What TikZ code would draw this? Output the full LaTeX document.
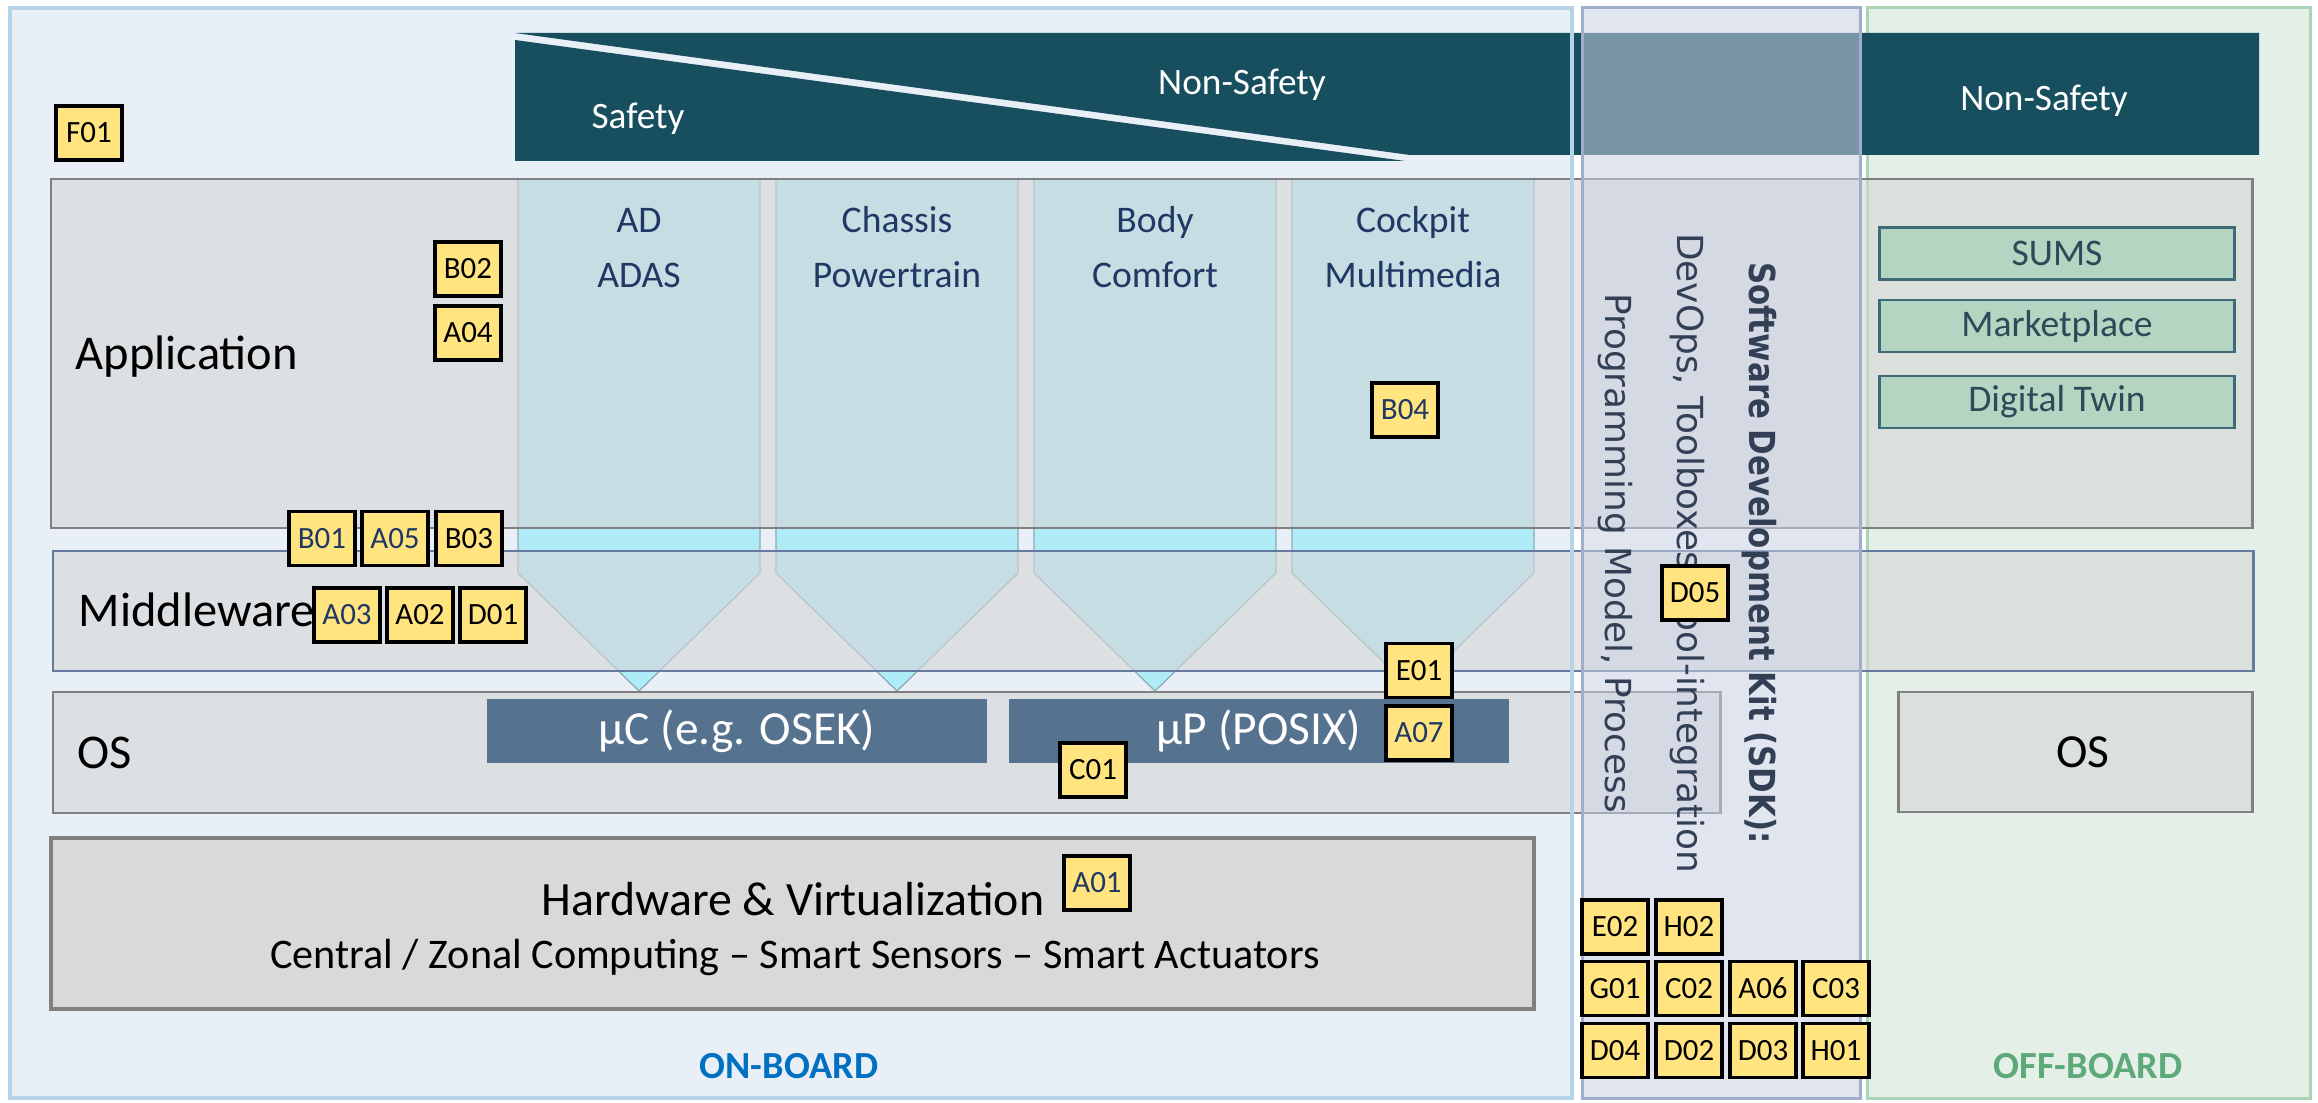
\documentclass[tikz,border=0pt]{standalone}
\usepackage{fontspec}
\setmainfont{Carlito}
\newfontfamily\sdkfont[BoldFeatures={FakeStretch=0.86}]{DejaVu Sans}
\definecolor{onBg}{HTML}{E9EFF7}
\definecolor{onLine}{HTML}{B7D3E9}
\definecolor{offBg}{HTML}{E4EFE8}
\definecolor{offLine}{HTML}{A9D4B6}
\definecolor{sdkFill}{HTML}{C8D0E2}
\definecolor{sdkLine}{HTML}{A0AECB}
\definecolor{sdkText}{HTML}{323F55}
\definecolor{bannerTeal}{HTML}{174F5F}
\definecolor{domFill}{HTML}{B0EBF8}
\definecolor{domLine}{HTML}{8FA9B3}
\definecolor{domText}{HTML}{1F3864}
\definecolor{layerGray}{HTML}{D6D6D6}
\definecolor{layerLine}{HTML}{808080}
\definecolor{mwLine}{HTML}{6679A0}
\definecolor{hwGray}{HTML}{D9D9D9}
\definecolor{chipBlue}{HTML}{55738F}
\definecolor{tagYellow}{HTML}{FFE480}
\definecolor{svcGreen}{HTML}{B3D5C1}
\definecolor{svcLine}{HTML}{3E6B77}
\definecolor{svcText}{HTML}{2C4A57}
\definecolor{onBlue}{HTML}{0070C0}
\definecolor{offGreen}{HTML}{5EA97A}
\tikzset{
	lbox/.style={fill=layerGray, fill opacity=0.6, draw=layerLine, line width=0.85pt},
	hwbox/.style={fill=hwGray, draw=layerLine, line width=1.1pt},
	dcol/.style={fill=domFill, draw=domLine, line width=0.35pt},
	dtext/.style={anchor=base, inner sep=0pt, text=domText, font=\fontsize{10.7}{13}\selectfont},
	btext/.style={text=white, inner sep=0pt, font=\fontsize{10.6}{13}\selectfont},
	lname/.style={anchor=base west, inner sep=0pt, font=\fontsize{13.8}{16}\selectfont},
	ubox/.style={fill=chipBlue, text=white, minimum width=5cm, minimum height=0.64cm,
		inner sep=0pt, font=\fontsize{13.5}{16}\selectfont},
	gbox/.style={fill=svcGreen, draw=svcLine, line width=0.85pt, text=svcText,
		minimum width=3.55cm, minimum height=0.52cm, inner sep=0pt, font=\fontsize{10.7}{13}\selectfont},
	tbox/.style={fill=tagYellow, draw=black, line width=1.1pt, minimum width=0.66cm,
		minimum height=0.54cm, inner sep=0pt, font=\fontsize{8.8}{10}\selectfont},
	navy/.style={text=domText},
	area/.style={anchor=base, inner sep=0pt, font=\bfseries\fontsize{10.9}{13}\selectfont},
	sdktext/.style={rotate=-90, align=center, text=sdkText, font=\sdkfont\fontsize{10.2}{20.5}\selectfont}
}

\begin{document}
\begin{tikzpicture}[x=1cm, y=1cm]
	\useasboundingbox (0,0) rectangle (23.18,11.02);
	% on-board and off-board areas
	\fill[onBg] (0.10,0.04) rectangle (15.72,10.94);
	\draw[fill=offBg, draw=offLine, line width=0.85pt] (18.67,0.04) rectangle (23.10,10.94);
	% domain columns
	\draw[dcol] (5.18,9.23) -- (5.18,5.29) -- (6.39,4.11) -- (7.60,5.29) -- (7.60,9.23) -- cycle;
	\draw[dcol] (7.76,9.23) -- (7.76,5.29) -- (8.97,4.11) -- (10.18,5.29) -- (10.18,9.23) -- cycle;
	\draw[dcol] (10.34,9.23) -- (10.34,5.29) -- (11.55,4.11) -- (12.76,5.29) -- (12.76,9.23) -- cycle;
	\draw[dcol] (12.92,9.23) -- (12.92,5.29) -- (14.13,4.11) -- (15.34,5.29) -- (15.34,9.23) -- cycle;
	% layers
	\draw[lbox] (0.51,5.74) rectangle (22.52,9.23);
	\draw[lbox, draw=mwLine] (0.53,4.31) rectangle (22.53,5.51);
	\draw[lbox] (0.53,2.89) rectangle (17.20,4.10);
	\draw[lbox] (18.98,2.90) rectangle (22.52,4.10);
	\draw[hwbox] (0.51,0.93) rectangle (15.34,2.64);
	\node[ubox] (uc) at (7.37,3.71) {µC (e.g. OSEK)};
	\node[ubox] (up) at (12.59,3.71) {µP (POSIX)};
	\node[font=\fontsize{13.5}{16}\selectfont] (os2) at (20.83,3.50) {OS};
	% off-board services
	\node[gbox] (sums) at (20.57,8.485) {SUMS};
	\node[gbox] (market) at (20.57,7.76) {Marketplace};
	\node[gbox] (twin) at (20.57,7.00) {Digital Twin};
	% safety banner
	\fill[bannerTeal] (5.15,10.62) -- (14.05,9.41) -- (5.15,9.41) -- cycle;
	\fill[bannerTeal] (5.15,10.69) -- (22.59,10.69) -- (22.59,9.47) -- (14.10,9.47) -- cycle;
	\node[btext] (safe) at (6.38,9.83) {Safety};
	\node[btext] (nonsafe) at (12.42,10.17) {Non-Safety};
	\node[btext] (nonsafe2) at (20.44,10.01) {Non-Safety};
	\draw[onLine, line width=1.1pt] (0.10,0.04) rectangle (15.72,10.94);
	% SDK strip
	\draw[fill=sdkFill, fill opacity=0.55, draw=sdkLine, line width=0.85pt] (15.82,0.04) rectangle (18.60,10.94);
	\node[sdktext] (sdk) at (16.87,5.49) {\textbf{Software Development Kit (SDK):}\\DevOps, Toolboxes, Tool-integration\\Programming Model, Process};
	% texts
	\node[dtext] (ad) at (6.39,8.69) {AD};
	\node[dtext] (adas) at (6.39,8.145) {ADAS};
	\node[dtext] (chassis) at (8.97,8.69) {Chassis};
	\node[dtext] (power) at (8.97,8.145) {Powertrain};
	\node[dtext] (body) at (11.55,8.69) {Body};
	\node[dtext] (comfort) at (11.55,8.145) {Comfort};
	\node[dtext] (cockpit) at (14.13,8.69) {Cockpit};
	\node[dtext] (media) at (14.13,8.145) {Multimedia};
	\node[lname] (app) at (0.75,7.32) {Application};
	\node[lname] (mw) at (0.78,4.76) {Middleware};
	\node[lname] (os) at (0.77,3.34) {OS};
	\node[anchor=base, inner sep=0pt, font=\fontsize{13.6}{16}\selectfont] (hw) at (7.93,1.87) {Hardware \& Virtualization};
	\node[anchor=base, inner sep=0pt, font=\fontsize{12}{14}\selectfont] (hwsub) at (7.95,1.34) {Central / Zonal Computing -- Smart Sensors -- Smart Actuators};
	\node[area, text=onBlue] (onb) at (7.89,0.24) {ON-BOARD};
	\node[area, text=offGreen] (offb) at (20.88,0.24) {OFF-BOARD};
	% requirement tags
	\node[tbox] (f01) at (0.89,9.69) {F01};
	\node[tbox] (b02) at (4.68,8.33) {B02};
	\node[tbox] (a04) at (4.68,7.69) {A04};
	\node[tbox, navy] (b01) at (3.22,5.635) {B01};
	\node[tbox, navy] (a05) at (3.95,5.635) {A05};
	\node[tbox] (b03) at (4.69,5.635) {B03};
	\node[tbox, navy] (a03) at (3.47,4.87) {A03};
	\node[tbox] (a02) at (4.20,4.87) {A02};
	\node[tbox] (d01) at (4.93,4.87) {D01};
	\node[tbox, navy] (b04) at (14.05,6.92) {B04};
	\node[tbox] (e01) at (14.19,4.315) {E01};
	\node[tbox, navy] (a07) at (14.19,3.69) {A07};
	\node[tbox] (c01) at (10.93,3.32) {C01};
	\node[tbox, navy] (a01) at (10.97,2.19) {A01};
	\node[tbox] (d05) at (16.95,5.09) {D05};
	\node[tbox] (e02) at (16.15,1.75) {E02};
	\node[tbox] (h02) at (16.89,1.75) {H02};
	\node[tbox] (g01) at (16.15,1.135) {G01};
	\node[tbox] (c02) at (16.89,1.135) {C02};
	\node[tbox] (a06) at (17.63,1.135) {A06};
	\node[tbox] (c03) at (18.36,1.135) {C03};
	\node[tbox] (d04) at (16.15,0.515) {D04};
	\node[tbox] (d02) at (16.89,0.515) {D02};
	\node[tbox] (d03) at (17.63,0.515) {D03};
	\node[tbox] (h01) at (18.36,0.515) {H01};
\end{tikzpicture}
\end{document}
